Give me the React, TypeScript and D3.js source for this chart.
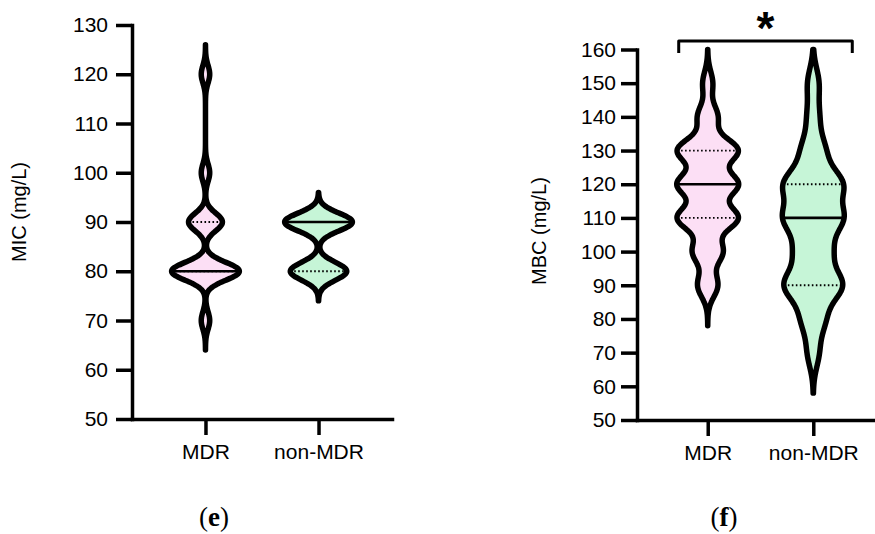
import React, { useEffect, useRef } from "react";
import * as d3 from "d3";

// Isolate groups on the x axis
const groups = ["MDR", "non-MDR"];

// Concentration levels tested (mg/L)
const levels = [70, 80, 90, 100, 110, 120, 130, 140, 150];

// Number of isolates at each level
const micMdrCounts = [1, 8, 4, 1, 0, 1, 0, 0, 0];
const micNonMdrCounts = [0, 5, 6, 0, 0, 0, 0, 0, 0];
const mbcMdrCounts = [0, 0, 2, 3, 6, 6, 6, 2, 1];
const mbcNonMdrCounts = [1, 2, 5, 3, 5, 5, 2, 1, 1];

// Axis tick values
const micTicks = [50, 60, 70, 80, 90, 100, 110, 120, 130];
const mbcTicks = [50, 60, 70, 80, 90, 100, 110, 120, 130, 140, 150, 160];

const groupFills = ["#fcdff5", "#c6f5d7"];
const SANS = "'Liberation Sans', Arial, Helvetica, sans-serif";
const SERIF = "'Liberation Serif', 'DejaVu Serif', serif";

type Panel = {
  tag: string;
  title: string;
  ticks: number[];
  series: number[][];
  bandwidth: number[];
  cut: number;
  maxHalf: number;
  xRange: [number, number];
  yRange: [number, number];
  pad: number;
  tickPad: number;
  titlePos: [number, number];
  tagPos: [number, number];
  significance?: string;
};

const panels: Panel[] = [
  {
    tag: "e",
    title: "MIC (mg/L)",
    ticks: micTicks,
    series: [micMdrCounts, micNonMdrCounts],
    bandwidth: [1.8, 1.8],
    cut: 6,
    maxHalf: 34,
    xRange: [132, 392],
    yRange: [419, 25],
    pad: 0.65,
    tickPad: 8,
    titlePos: [26, 212],
    tagPos: [214, 526],
  },
  {
    tag: "f",
    title: "MBC (mg/L)",
    ticks: mbcTicks,
    series: [mbcMdrCounts, mbcNonMdrCounts],
    bandwidth: [3.5, 4.5],
    cut: 12,
    maxHalf: 31,
    xRange: [637, 884],
    yRange: [420, 49.5],
    pad: 0.67,
    tickPad: 5,
    titlePos: [546, 231],
    tagPos: [724, 526],
    significance: "*",
  },
];

export default function App() {
  const ref = useRef<SVGSVGElement | null>(null);

  useEffect(() => {
    const svg = d3.select(ref.current);
    svg.selectAll("*").remove();

    panels.forEach((p) => {
      const y = d3
        .scaleLinear()
        .domain([d3.min(p.ticks) as number, d3.max(p.ticks) as number])
        .range(p.yRange);
      const x = d3.scalePoint<string>().domain(groups).range(p.xRange).padding(p.pad);
      const g = svg.append("g");

      // violins: Gaussian kernel density of the isolate values
      p.series.forEach((counts, i) => {
        const bw = p.bandwidth[i];
        const obs = levels.flatMap((l, j) => Array(counts[j]).fill(l)).sort(d3.ascending);
        const lo = Math.max(y.domain()[0], (d3.min(obs) as number) - p.cut);
        const hi = Math.min(y.domain()[1], (d3.max(obs) as number) + p.cut);
        const density = (v: number) =>
          d3.sum(levels, (l, j) => counts[j] * Math.exp(-((v - l) ** 2) / (2 * bw * bw)));
        const grid = d3.range(lo, hi, 0.25).concat([hi]);
        const pts: [number, number][] = grid.map((v) => [v, density(v)]);
        const w = d3
          .scaleLinear()
          .domain([0, d3.max(pts, (d) => d[1]) as number])
          .range([0, p.maxHalf]);
        const cx = x(groups[i]) as number;
        const area = d3
          .area<[number, number]>()
          .y((d) => y(d[0]))
          .x0((d) => cx - w(d[1]))
          .x1((d) => cx + w(d[1]))
          .curve(d3.curveBasis);

        g.append("path").attr("d", area(pts)).attr("fill", groupFills[i]);

        // quartiles dotted, median solid
        const quartiles = [0.25, 0.75, 0.5].map((t) => d3.quantile(obs, t) as number);
        quartiles.forEach((v, k) => {
          const hw = w(density(v));
          const median = k === 2;
          g.append("line")
            .attr("x1", cx - hw)
            .attr("x2", cx + hw)
            .attr("y1", y(v))
            .attr("y2", y(v))
            .attr("stroke", "#000")
            .attr("stroke-width", median ? 2.6 : 1.8)
            .attr("stroke-dasharray", median ? null : "1.6 2.4");
        });

        g.append("path")
          .attr("d", area(pts))
          .attr("fill", "none")
          .attr("stroke", "#000")
          .attr("stroke-width", 5.5)
          .attr("stroke-linejoin", "round");
      });

      // axes
      const yAxis = d3
        .axisLeft(y)
        .tickValues(p.ticks)
        .tickSize(16)
        .tickSizeOuter(0)
        .tickPadding(p.tickPad)
        .tickFormat(d3.format("d"));
      const ya = g
        .append("g")
        .attr("transform", `translate(${p.xRange[0]},0)`)
        .call(yAxis)
        .attr("font-family", SANS)
        .attr("font-size", 21);

      const xAxis = d3.axisBottom(x).tickSize(16).tickSizeOuter(0).tickPadding(9);
      const xa = g
        .append("g")
        .attr("transform", `translate(0,${p.yRange[0]})`)
        .call(xAxis)
        .attr("font-family", SANS)
        .attr("font-size", 21);

      [ya, xa].forEach((a) => {
        a.select(".domain")
          .attr("stroke", "#000")
          .attr("stroke-width", 3.5)
          .attr("stroke-linecap", "square");
        a.selectAll(".tick line").attr("stroke", "#000").attr("stroke-width", 3.5);
        a.selectAll(".tick text").attr("fill", "#000");
      });

      // axis title
      g.append("text")
        .attr("transform", `translate(${p.titlePos[0]},${p.titlePos[1]}) rotate(-90)`)
        .attr("text-anchor", "middle")
        .attr("font-family", SANS)
        .attr("font-size", 20)
        .attr("fill", "#000")
        .text(p.title);

      // panel tag
      const tag = g
        .append("text")
        .attr("x", p.tagPos[0])
        .attr("y", p.tagPos[1])
        .attr("text-anchor", "middle")
        .attr("font-family", SERIF)
        .attr("font-size", 27)
        .attr("fill", "#000");
      tag.append("tspan").text("(");
      tag.append("tspan").attr("font-weight", "bold").text(p.tag);
      tag.append("tspan").text(")");

      // significance bracket between groups
      if (p.significance) {
        const x0 = (x(groups[0]) as number) - 29;
        const x1 = (x(groups[1]) as number) + 39;
        const top = 41;
        g.append("path")
          .attr("d", `M${x0},${top + 12}V${top}H${x1}V${top + 12}`)
          .attr("fill", "none")
          .attr("stroke", "#000")
          .attr("stroke-width", 3)
          .attr("stroke-linejoin", "round");
        g.append("text")
          .attr("x", (x0 + x1) / 2)
          .attr("y", 44)
          .attr("text-anchor", "middle")
          .attr("font-family", SANS)
          .attr("font-weight", "bold")
          .attr("font-size", 46)
          .attr("fill", "#000")
          .text(p.significance);
      }
    });
  }, []);

  return (
    <svg
      ref={ref}
      width={875}
      height={534}
      style={{ position: "absolute", left: 0, top: 0, background: "#fff" }}
    />
  );
}
